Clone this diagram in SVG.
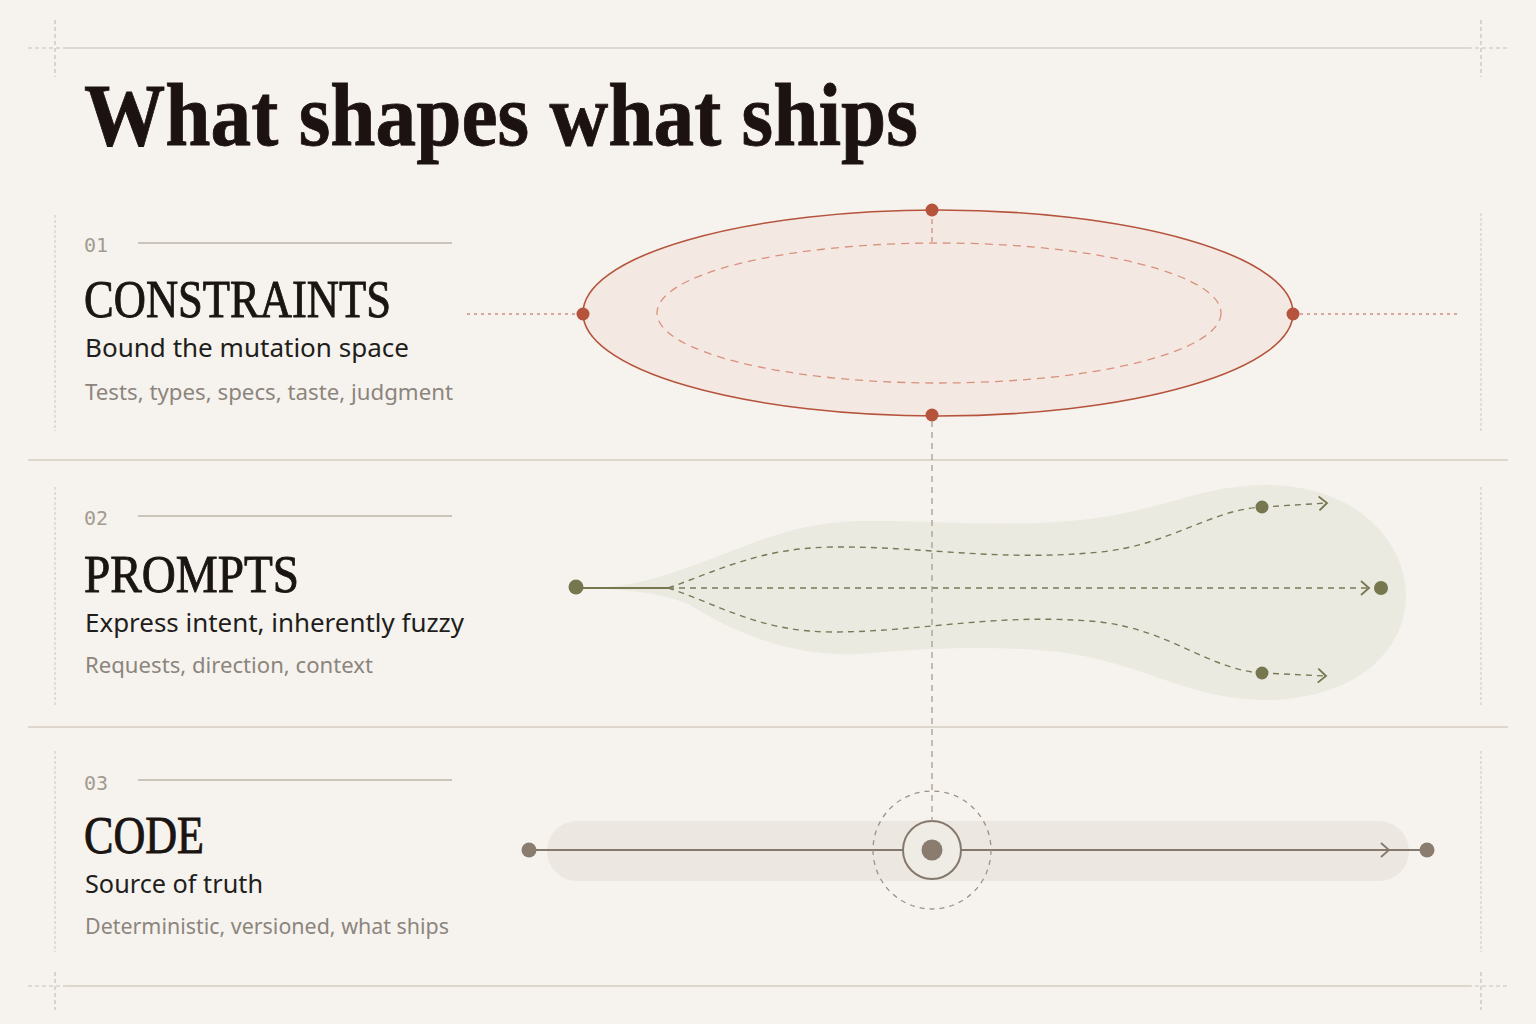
<svg xmlns="http://www.w3.org/2000/svg" width="1536" height="1024" viewBox="0 0 1536 1024">
<defs>
<style>
.bg{fill:#f6f3ee}
.rule{stroke:#d5cdc2;stroke-width:1.5;fill:none}
.tick{stroke:#c9c0b5;stroke-width:1.2;stroke-dasharray:4 3;fill:none}
.vguide{stroke:#d6cec4;stroke-width:1.2;stroke-dasharray:3 2;fill:none}
.idxline{stroke:#bdb4a8;stroke-width:1.5}
.title{font-family:"Liberation Serif","Times New Roman",serif;font-weight:bold;font-size:88px;fill:#1c1211;stroke:#1c1211;stroke-width:0.8}
.idx{font-family:"DejaVu Sans Mono","Liberation Mono",monospace;font-size:20px;fill:#a39b90}
.head{font-family:"Liberation Serif","Times New Roman",serif;font-size:52px;fill:#1a1412;stroke:#1a1412;stroke-width:0.9}
.sub{font-family:"Noto Sans","Open Sans",sans-serif;font-size:26px;fill:#1f1e1c}
.det{font-family:"Noto Sans","Open Sans",sans-serif;font-size:22px;fill:#8c857d}
.red{fill:#b5533c}
.olive{fill:#76774f}
.taupe{fill:#8a7d70}
.oldash{stroke:#7a7a58;stroke-width:1.4;stroke-dasharray:6 5;fill:none}
</style>
<marker id="chevOlive" markerUnits="userSpaceOnUse" markerWidth="12" markerHeight="18" refX="9" refY="8" orient="auto" viewBox="0 0 12 16">
<path d="M1,1 L9,8 L1,15" fill="none" stroke="#76774f" stroke-width="1.8"/>
</marker>
<marker id="chevTaupe" markerUnits="userSpaceOnUse" markerWidth="12" markerHeight="18" refX="9" refY="8" orient="auto" viewBox="0 0 12 16">
<path d="M1,1 L9,8 L1,15" fill="none" stroke="#85786c" stroke-width="1.8"/>
</marker>
</defs>

<rect class="bg" x="0" y="0" width="1536" height="1024"/>

<g id="frame">
<line class="rule" x1="67" y1="48" x2="1468" y2="48"/>
<line class="rule" x1="67" y1="986" x2="1468" y2="986"/>
<line class="rule" x1="28" y1="460" x2="1508" y2="460"/>
<line class="rule" x1="28" y1="727" x2="1508" y2="727"/>
<line class="tick" x1="28" y1="48" x2="67" y2="48"/>
<line class="tick" x1="55" y1="20" x2="55" y2="77"/>
<line class="tick" x1="1468" y1="48" x2="1508" y2="48"/>
<line class="tick" x1="1481" y1="20" x2="1481" y2="77"/>
<line class="tick" x1="28" y1="986" x2="67" y2="986"/>
<line class="tick" x1="55" y1="972" x2="55" y2="1010"/>
<line class="tick" x1="1468" y1="986" x2="1508" y2="986"/>
<line class="tick" x1="1481" y1="972" x2="1481" y2="1010"/>
<line class="vguide" x1="55" y1="215" x2="55" y2="431"/>
<line class="vguide" x1="55" y1="487" x2="55" y2="705"/>
<line class="vguide" x1="55" y1="751" x2="55" y2="952"/>
<line class="vguide" x1="1481" y1="213" x2="1481" y2="431"/>
<line class="vguide" x1="1481" y1="487" x2="1481" y2="705"/>
<line class="vguide" x1="1481" y1="751" x2="1481" y2="952"/>
</g>

<text class="title" x="84" y="145" textLength="834" lengthAdjust="spacingAndGlyphs">What shapes what ships</text>

<g id="label-constraints">
<text class="idx" x="84" y="252">01</text>
<line class="idxline" x1="138" y1="243" x2="452" y2="243"/>
<text class="head" x="84" y="317" textLength="307" lengthAdjust="spacingAndGlyphs">CONSTRAINTS</text>
<text class="sub" x="85" y="357" textLength="324" lengthAdjust="spacingAndGlyphs">Bound the mutation space</text>
<text class="det" x="85" y="400" textLength="368" lengthAdjust="spacingAndGlyphs">Tests, types, specs, taste, judgment</text>
</g>

<g id="label-prompts">
<text class="idx" x="84" y="525">02</text>
<line class="idxline" x1="138" y1="516" x2="452" y2="516"/>
<text class="head" x="84" y="592" textLength="215" lengthAdjust="spacingAndGlyphs">PROMPTS</text>
<text class="sub" x="85" y="632" textLength="379" lengthAdjust="spacingAndGlyphs">Express intent, inherently fuzzy</text>
<text class="det" x="85" y="673" textLength="288" lengthAdjust="spacingAndGlyphs">Requests, direction, context</text>
</g>

<g id="label-code">
<text class="idx" x="84" y="790">03</text>
<line class="idxline" x1="138" y1="780" x2="452" y2="780"/>
<text class="head" x="84" y="853" textLength="120" lengthAdjust="spacingAndGlyphs">CODE</text>
<text class="sub" x="85" y="893" textLength="178" lengthAdjust="spacingAndGlyphs">Source of truth</text>
<text class="det" x="85" y="934" textLength="364" lengthAdjust="spacingAndGlyphs">Deterministic, versioned, what ships</text>
</g>

<g id="constraints-shape">
<line x1="467" y1="314" x2="583" y2="314" stroke="#cf8f7c" stroke-width="1.3" stroke-dasharray="3 4"/>
<line x1="1293" y1="314" x2="1460" y2="314" stroke="#cf8f7c" stroke-width="1.3" stroke-dasharray="3 4"/>
<ellipse cx="938" cy="313" rx="355" ry="103" fill="#f4e8e2" stroke="#b5533c" stroke-width="1.6"/>
<ellipse cx="939" cy="313" rx="282" ry="70" fill="none" stroke="#d9917e" stroke-width="1.3" stroke-dasharray="8 6"/>
<line x1="932" y1="210" x2="932" y2="243" stroke="#c98a78" stroke-width="1.2" stroke-dasharray="5 4"/>
<circle class="red" cx="932" cy="210" r="6.5"/>
<circle class="red" cx="932" cy="415" r="6.5"/>
<circle class="red" cx="583" cy="314" r="6.5"/>
<circle class="red" cx="1293" cy="314" r="6.5"/>
</g>

<g id="prompts-shape">
<path d="M 590 588 C 630 587 660 578 700 563 C 760 540 800 522 860 521 C 940 520 1000 528 1080 520 C 1160 512 1200 485 1265 485 C 1360 485 1406 545 1406 595 C 1406 655 1350 700 1265 700 C 1190 700 1140 662 1060 652 C 990 645 930 648 860 654 C 790 658 730 630 690 605 C 660 592 625 590 590 588 Z" fill="#ebeae1"/>
<line x1="576" y1="588" x2="668" y2="588" stroke="#76774f" stroke-width="2"/>
<line class="oldash" x1="668" y1="588" x2="1369" y2="588" marker-end="url(#chevOlive)"/>
<path class="oldash" d="M 668 588 C 720 570 760 548 833 547 C 920 546 1000 562 1100 552 C 1170 545 1210 510 1262 507"/>
<path class="oldash" d="M 668 588 C 720 605 760 632 833 632 C 920 632 1000 612 1100 622 C 1170 630 1210 670 1262 673"/>
<line class="oldash" x1="1262" y1="507" x2="1327" y2="503" marker-end="url(#chevOlive)"/>
<line class="oldash" x1="1262" y1="673" x2="1326" y2="676" marker-end="url(#chevOlive)"/>
<circle class="olive" cx="576" cy="587" r="7.5"/>
<circle class="olive" cx="1262" cy="507" r="6.5"/>
<circle class="olive" cx="1262" cy="673" r="6.5"/>
<circle class="olive" cx="1381" cy="588" r="7"/>
</g>

<g id="code-shape">
<rect x="547" y="821" width="862" height="60" rx="30" fill="#ece8e1"/>
<line x1="529" y1="850" x2="1389" y2="850" stroke="#85786c" stroke-width="2" marker-end="url(#chevTaupe)"/>
<line x1="1389" y1="850" x2="1427" y2="850" stroke="#85786c" stroke-width="2"/>
<circle class="taupe" cx="529" cy="850" r="7.5"/>
<circle class="taupe" cx="1427" cy="850" r="7.5"/>
<circle cx="932" cy="850" r="59" fill="none" stroke="#9d9288" stroke-width="1.3" stroke-dasharray="5 5"/>
<circle cx="932" cy="850" r="29" fill="#efebe5" stroke="#85786c" stroke-width="2"/>
<circle class="taupe" cx="932" cy="850" r="10.5"/>
</g>

<g id="connectors">
<line x1="932" y1="421" x2="932" y2="821" stroke="#a89d92" stroke-width="1.3" stroke-dasharray="6 5"/>
</g>
</svg>
